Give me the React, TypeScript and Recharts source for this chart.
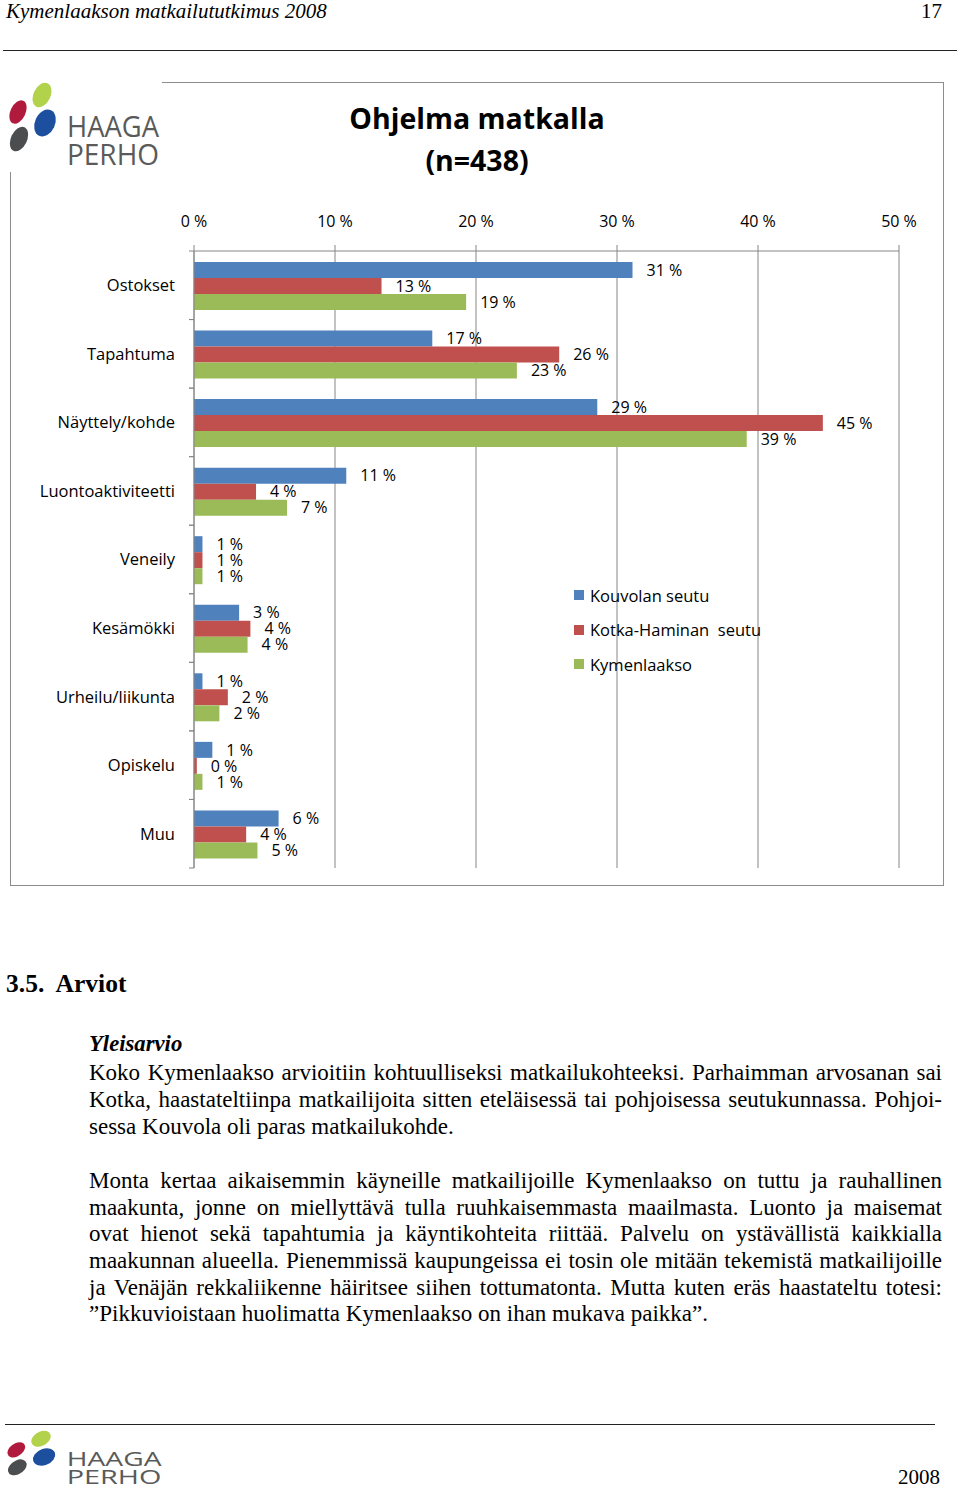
import { Bar, BarChart, CartesianGrid, LabelList, Legend, XAxis, YAxis } from 'recharts';

const categories = [
  'Ostokset',
  'Tapahtuma',
  'Näyttely/kohde',
  'Luontoaktiviteetti',
  'Veneily',
  'Kesämökki',
  'Urheilu/liikunta',
  'Opiskelu',
  'Muu',
];
const kouvola = [31.1, 16.9, 28.6, 10.8, 0.6, 3.2, 0.6, 1.3, 6.0];
const kotka = [13.3, 25.9, 44.6, 4.4, 0.6, 4.0, 2.4, 0.2, 3.7];
const kymenlaakso = [19.3, 22.9, 39.2, 6.6, 0.6, 3.8, 1.8, 0.6, 4.5];
const seriesNames = ['Kouvolan seutu', 'Kotka-Haminan  seutu', 'Kymenlaakso'];
const xTicks = [0, 10, 20, 30, 40, 50];

const data = categories.map((name, i) => ({
  name,
  kouvola: kouvola[i],
  kotka: kotka[i],
  kymenlaakso: kymenlaakso[i],
}));

const FONT = '"Open Sans", sans-serif';
const GRID = '#868686';
const CHART_W = 934;
const CHART_H = 804;
const MARGIN = { top: 139, right: 45, bottom: 18, left: 0 };
const X_AXIS_H = 30;
const BAND = (CHART_H - MARGIN.top - X_AXIS_H - MARGIN.bottom) / categories.length;
const LABEL_GAP = 19;

const bodyP1 = [
  'Koko Kymenlaakso arvioitiin kohtuulliseksi matkailukohteeksi. Parhaimman arvosanan sai',
  'Kotka, haastateltiinpa matkailijoita sitten eteläisessä tai pohjoisessa seutukunnassa. Pohjoi-',
  'sessa Kouvola oli paras matkailukohde.',
];
const bodyP2 = [
  'Monta kertaa aikaisemmin käyneille matkailijoille Kymenlaakso on tuttu ja rauhallinen',
  'maakunta, jonne on miellyttävä tulla ruuhkaisemmasta maailmasta. Luonto ja maisemat',
  'ovat hienot sekä tapahtumia ja käyntikohteita riittää. Palvelu on ystävällistä kaikkialla',
  'maakunnan alueella. Pienemmissä kaupungeissa ei tosin ole mitään tekemistä matkailijoille',
  'ja Venäjän rekkaliikenne häiritsee siihen tottumatonta. Mutta kuten eräs haastateltu totesi:',
  '”Pikkuvioistaan huolimatta Kymenlaakso on ihan mukava paikka”.',
];

function CategoryTick(props: any) {
  const { x, y, payload } = props;
  const ax = x + LABEL_GAP;
  return (
    <g>
      <line x1={ax - 5} x2={ax} y1={y - BAND / 2} y2={y - BAND / 2} stroke={GRID} />
      <line x1={ax - 5} x2={ax} y1={y + BAND / 2} y2={y + BAND / 2} stroke={GRID} />
      <text x={x} y={y} dy="0.36em" textAnchor="end" fontSize={16.5} fontFamily={FONT} fill="#000">
        {payload.value}
      </text>
    </g>
  );
}

function LegendBox(props: any) {
  const items = [...(props.payload || [])].sort(
    (a: any, b: any) => seriesNames.indexOf(a.value) - seriesNames.indexOf(b.value),
  );
  return (
    <div style={{ fontFamily: FONT, fontSize: 16.5, color: '#000' }}>
      {items.map((p: any) => (
        <div key={p.value} style={{ display: 'flex', alignItems: 'center', height: 34.5, whiteSpace: 'pre' }}>
          <span style={{ width: 10, height: 10, background: p.color, marginRight: 6, display: 'inline-block' }} />
          {p.value}
        </div>
      ))}
    </div>
  );
}

function Logo({ x, y, sx, sy }: { x: number; y: number; sx: number; sy: number }) {
  return (
    <svg
      width={154 * sx}
      height={92 * sy}
      style={{ position: 'absolute', left: x, top: y, background: '#fff' }}
    >
      <g transform={`scale(${sx} ${sy})`}>
        <ellipse cx={34} cy={15} rx={8.5} ry={13} transform="rotate(25 34 15)" fill="#b3d24b" />
        <ellipse cx={10} cy={32} rx={7.5} ry={12.5} transform="rotate(25 10 32)" fill="#b01a3c" />
        <ellipse cx={37} cy={43} rx={10} ry={14} transform="rotate(25 37 43)" fill="#1c4f9d" />
        <ellipse cx={11} cy={59} rx={8} ry={13} transform="rotate(25 11 59)" fill="#4b4d4f" />
        <text x={59} y={57} fontSize={30} fontFamily={FONT} fill="#5a5a5a" textLength={92} lengthAdjust="spacingAndGlyphs">
          HAAGA
        </text>
        <text x={59} y={85} fontSize={30} fontFamily={FONT} fill="#5a5a5a" textLength={92} lengthAdjust="spacingAndGlyphs">
          PERHO
        </text>
      </g>
    </svg>
  );
}

const serif = '"Liberation Serif", "Times New Roman", serif';

function Line({ text, cy, justify }: { text: string; cy: number; justify: boolean }) {
  return (
    <div
      style={{
        position: 'absolute',
        left: 89,
        top: cy - 13.5,
        width: 853,
        lineHeight: '27px',
        fontSize: 23,
        fontFamily: serif,
        textAlign: 'justify',
        textAlignLast: justify ? 'justify' : 'left',
        whiteSpace: 'nowrap',
      }}
    >
      {text}
    </div>
  );
}

const labelStyle = { fill: '#000', fontSize: 16, fontFamily: FONT };
const pct = (v: any) => `${Math.round(v)} %`;

export default function App() {
  const p1y = [1072, 1099, 1126];
  const p2y = [1180, 1207, 1233, 1260, 1287, 1313];
  return (
    <div style={{ position: 'absolute', left: 0, top: 0, width: 960, height: 1489, background: '#fff', overflow: 'hidden' }}>
      {/* page header */}
      <div style={{ position: 'absolute', left: 6, top: -1, fontFamily: serif, fontStyle: 'italic', fontSize: 21 }}>
        Kymenlaakson matkailututkimus 2008
      </div>
      <div style={{ position: 'absolute', right: 18, top: -1, fontFamily: serif, fontSize: 21 }}>17</div>
      <div style={{ position: 'absolute', left: 3, top: 50, width: 954, height: 1, background: '#222' }} />

      {/* chart frame */}
      <div
        style={{
          position: 'absolute',
          left: 10,
          top: 82,
          width: CHART_W,
          height: CHART_H,
          boxSizing: 'border-box',
          border: '1px solid #8c8c8c',
        }}
      />
      <div style={{ position: 'absolute', left: 10, top: 82 }}>
        <BarChart
          width={CHART_W}
          height={CHART_H}
          data={data}
          layout="vertical"
          margin={MARGIN}
          barCategoryGap="16%"
          barGap={0}
        >
          <CartesianGrid horizontal={false} stroke={GRID} />
          <XAxis
            type="number"
            orientation="top"
            domain={[0, 50]}
            ticks={xTicks}
            height={X_AXIS_H}
            tickFormatter={(v) => `${v} %`}
            stroke={GRID}
            tickSize={6}
            tickMargin={18}
            tick={{ fill: '#000', fontSize: 16, fontFamily: FONT }}
            interval={0}
          />
          <YAxis
            type="category"
            dataKey="name"
            width={184}
            stroke={GRID}
            tickLine={false}
            tickSize={0}
            tickMargin={LABEL_GAP}
            tick={<CategoryTick />}
            interval={0}
          />
          <Legend
            layout="vertical"
            align="center"
            verticalAlign="middle"
            content={<LegendBox />}
            wrapperStyle={{ left: 564, top: 496, width: 240, height: 104 }}
          />
          <Bar dataKey="kouvola" name={seriesNames[0]} fill="#4f81bd" isAnimationActive={false}>
            <LabelList dataKey="kouvola" position="right" offset={14} formatter={pct} style={labelStyle} />
          </Bar>
          <Bar dataKey="kotka" name={seriesNames[1]} fill="#c0504d" isAnimationActive={false}>
            <LabelList dataKey="kotka" position="right" offset={14} formatter={pct} style={labelStyle} />
          </Bar>
          <Bar dataKey="kymenlaakso" name={seriesNames[2]} fill="#9bbb59" isAnimationActive={false}>
            <LabelList dataKey="kymenlaakso" position="right" offset={14} formatter={pct} style={labelStyle} />
          </Bar>
        </BarChart>
      </div>

      {/* chart title */}
      <div
        style={{
          position: 'absolute',
          left: 10,
          top: 97,
          width: 934,
          textAlign: 'center',
          fontFamily: FONT,
          fontWeight: 700,
          fontSize: 28.5,
          lineHeight: '42px',
          color: '#000',
        }}
      >
        Ohjelma matkalla
        <br />
        (n=438)
      </div>
      <Logo x={8} y={80} sx={1} sy={1} />

      {/* text */}
      <div style={{ position: 'absolute', left: 6, top: 969, fontFamily: serif, fontWeight: 700, fontSize: 25.5, whiteSpace: 'pre' }}>
        {'3.5.  Arviot'}
      </div>
      <div
        style={{ position: 'absolute', left: 89, top: 1031, fontFamily: serif, fontWeight: 700, fontStyle: 'italic', fontSize: 22.7 }}
      >
        Yleisarvio
      </div>
      {bodyP1.map((t, i) => (
        <Line key={t} text={t} cy={p1y[i]} justify={i < bodyP1.length - 1} />
      ))}
      {bodyP2.map((t, i) => (
        <Line key={t} text={t} cy={p2y[i]} justify={i < bodyP2.length - 1} />
      ))}

      {/* footer */}
      <div style={{ position: 'absolute', left: 5, top: 1424, width: 930, height: 1, background: '#222' }} />
      <Logo x={6} y={1429} sx={1.03} sy={0.65} />
      <div style={{ position: 'absolute', right: 20, top: 1465, fontFamily: serif, fontSize: 21 }}>2008</div>
    </div>
  );
}
